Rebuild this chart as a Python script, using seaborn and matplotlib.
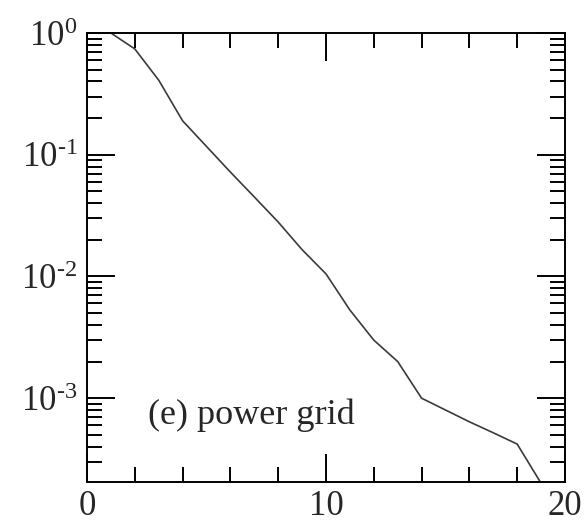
import numpy as np
import pandas as pd
import matplotlib
matplotlib.use("Agg")
import matplotlib.pyplot as plt
import matplotlib.ticker as mticker
import seaborn as sns

# data
degree = [1, 2, 3, 4, 5, 6, 7, 8, 9, 10, 11, 12, 13, 14, 15, 16, 17, 18, 19]
prob = [1.0, 0.74, 0.41, 0.19, 0.117, 0.072, 0.045, 0.028, 0.0166, 0.0105,
        0.0053, 0.0030, 0.0020, 0.0010, 0.00080, 0.00064, 0.00052, 0.00042, 0.0002]
x_ticklabels = ["0", "10", "20"]
label_text = "(e) power grid"

sns.set_style("ticks")
plt.rcParams["font.family"] = ["Liberation Serif", "DejaVu Serif"]
plt.rcParams["mathtext.fontset"] = "custom"
plt.rcParams["mathtext.rm"] = "Liberation Serif"
plt.rcParams["mathtext.it"] = "Liberation Serif:italic"
plt.rcParams["mathtext.bf"] = "Liberation Serif:bold"

df = pd.DataFrame({"k": degree, "P": prob})

fig = plt.figure(figsize=(5.87, 5.24), dpi=100)
ax = fig.add_axes([87/587, 1-482/524, (565-87)/587, (482-33)/524])

sns.lineplot(data=df, x="k", y="P", ax=ax, color="#3a3a3a", linewidth=1.2)

ax.set_yscale("log")
ax.set_xlim(0, 20)
ax.set_ylim(2.05e-4, 1.0)


def yfmt(v, p):
    e = int(round(np.log10(v)))
    if e < 0:
        return r"$10^{\text{-}%d}$" % (-e)
    return r"$10^{%d}$" % e


ax.xaxis.set_major_locator(mticker.FixedLocator([0, 10, 20]))
ax.xaxis.set_major_formatter(mticker.FixedFormatter(x_ticklabels))
ax.xaxis.set_minor_locator(mticker.MultipleLocator(2))
ax.yaxis.set_major_locator(mticker.LogLocator(base=10, numticks=10))
ax.yaxis.set_minor_locator(mticker.LogLocator(base=10, subs=np.arange(2, 10), numticks=20))
ax.yaxis.set_minor_formatter(mticker.NullFormatter())
ax.yaxis.set_major_formatter(mticker.FuncFormatter(yfmt))

ax.tick_params(which="major", direction="in", length=20, width=1.4,
               top=True, right=True, labelsize=25, pad=6, color="black")
ax.tick_params(which="minor", direction="in", length=11, width=1.4,
               top=True, right=True, color="black")
ax.tick_params(axis="y", which="major", pad=7)

for s in ax.spines.values():
    s.set_linewidth(1.4)
    s.set_color("black")

ax.set_xlabel("")
ax.set_ylabel("")

ax.text(0.128, 0.149, label_text, transform=ax.transAxes, fontsize=26,
        ha="left", va="center")

fig.savefig("out.png", dpi=100)
